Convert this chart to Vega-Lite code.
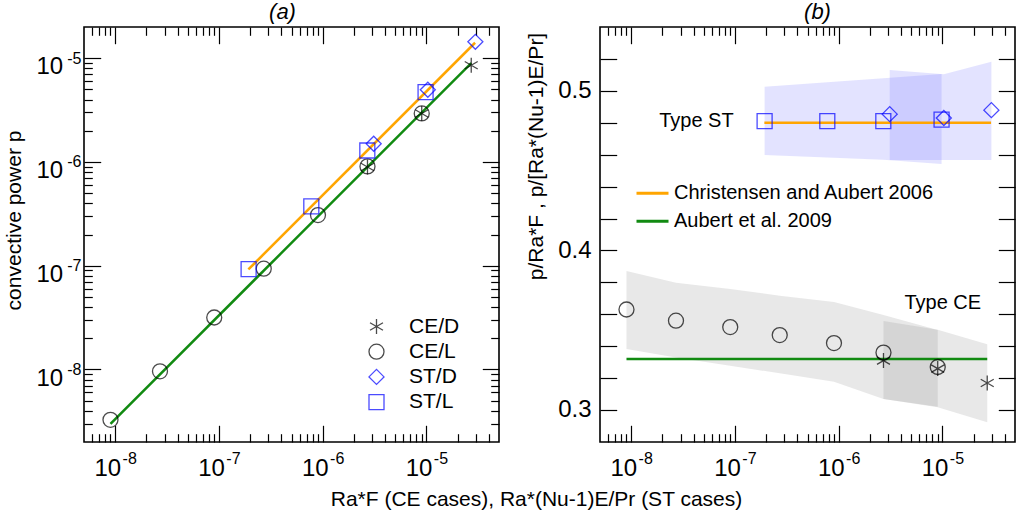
{
  "$schema": "https://vega.github.io/schema/vega-lite/v6.json",
  "background": "white",
  "padding": {"left": 2, "top": 0, "right": 5, "bottom": 2},
  "config": {
    "font": "Liberation Sans",
    "view": {"stroke": "black", "strokeWidth": 1.6},
    "axis": {"grid": false, "domain": false, "tickColor": "black", "tickWidth": 1.2, "labelColor": "black", "titleColor": "black", "labelFontSize": 24, "titleFontSize": 21, "titleFontWeight": "normal", "labelOverlap": false, "labelFlush": false, "labelBound": false},
    "legend": {"labelColor": "black", "labelLimit": 0}
  },
  "resolve": {"scale": {"color": "independent", "shape": "independent", "stroke": "independent", "fill": "independent"}},
  "datasets": {
    "pts": [
      {"type": "CE/L", "x": 9e-9, "p": 3.27e-9, "r": 0.363},
      {"type": "CE/L", "x": 2.7e-8, "p": 9.6e-9, "r": 0.356},
      {"type": "CE/L", "x": 9e-8, "p": 3.17e-8, "r": 0.352},
      {"type": "CE/L", "x": 2.7e-7, "p": 9.37e-8, "r": 0.347},
      {"type": "CE/L", "x": 9e-7, "p": 3.08e-7, "r": 0.342},
      {"type": "CE/L", "x": 2.7e-6, "p": 9.07e-7, "r": 0.336},
      {"type": "CE/L", "x": 9e-6, "p": 2.94e-6, "r": 0.327},
      {"type": "CE/D", "x": 2.7e-6, "p": 8.94e-7, "r": 0.331},
      {"type": "CE/D", "x": 9e-6, "p": 2.93e-6, "r": 0.326},
      {"type": "CE/D", "x": 2.7e-5, "p": 8.56e-6, "r": 0.317},
      {"type": "ST/L", "x": 1.93e-7, "p": 9.29e-8, "r": 0.481},
      {"type": "ST/L", "x": 7.76e-7, "p": 3.73e-7, "r": 0.481},
      {"type": "ST/L", "x": 2.69e-6, "p": 1.29e-6, "r": 0.481},
      {"type": "ST/L", "x": 9.8e-6, "p": 4.72e-6, "r": 0.482},
      {"type": "ST/D", "x": 3.1e-6, "p": 1.5e-6, "r": 0.4854},
      {"type": "ST/D", "x": 1.03e-5, "p": 4.97e-6, "r": 0.483},
      {"type": "ST/D", "x": 2.96e-5, "p": 1.44e-5, "r": 0.4879}
    ],
    "fits": [
      {"fit": "Christensen and Aubert 2006", "x": 1.92e-7, "p": 9.2e-8, "r": 0.48},
      {"fit": "Christensen and Aubert 2006", "x": 2.94e-5, "p": 1.41e-5, "r": 0.48},
      {"fit": "Aubert et al. 2009", "x": 9e-9, "p": 2.99e-9, "r": 0.332},
      {"fit": "Aubert et al. 2009", "x": 2.7e-5, "p": 8.96e-6, "r": 0.332}
    ],
    "bands": [
      {"band": "CE/L", "x": 9e-9, "lo": 0.3383, "hi": 0.3871},
      {"band": "CE/L", "x": 2.7e-8, "lo": 0.3329, "hi": 0.3798},
      {"band": "CE/L", "x": 9e-8, "lo": 0.3278, "hi": 0.3758},
      {"band": "CE/L", "x": 2.7e-7, "lo": 0.323, "hi": 0.3717},
      {"band": "CE/L", "x": 9e-7, "lo": 0.3177, "hi": 0.3677},
      {"band": "CE/L", "x": 2.7e-6, "lo": 0.3069, "hi": 0.3596},
      {"band": "CE/L", "x": 9e-6, "lo": 0.3021, "hi": 0.3502},
      {"band": "CE/D", "x": 2.7e-6, "lo": 0.3069, "hi": 0.3558},
      {"band": "CE/D", "x": 9e-6, "lo": 0.3018, "hi": 0.3504},
      {"band": "CE/D", "x": 2.7e-5, "lo": 0.2923, "hi": 0.3413},
      {"band": "ST/L", "x": 1.93e-7, "lo": 0.4598, "hi": 0.5025},
      {"band": "ST/L", "x": 7.76e-7, "lo": 0.4583, "hi": 0.5054},
      {"band": "ST/L", "x": 2.69e-6, "lo": 0.4569, "hi": 0.5079},
      {"band": "ST/L", "x": 9.8e-6, "lo": 0.4542, "hi": 0.5106},
      {"band": "ST/D", "x": 3.1e-6, "lo": 0.4567, "hi": 0.5131},
      {"band": "ST/D", "x": 1.03e-5, "lo": 0.4567, "hi": 0.5104},
      {"band": "ST/D", "x": 2.96e-5, "lo": 0.4567, "hi": 0.5183}
    ],
    "notes": [
      {"label": "Type ST", "x": 1.86e-8, "r": 0.4813},
      {"label": "Type CE", "x": 4.3e-6, "r": 0.3673}
    ]
  },
  "spacing": 101,
  "bounds": "flush",
  "hconcat": [
    {
      "width": 415,
      "height": 415,
      "title": {"text": "(a)", "fontStyle": "italic", "fontWeight": "normal", "fontSize": 22, "offset": 2, "dx": -9, "color": "black"},
      "resolve": {"axis": {"x": "independent", "y": "independent"}},
      "layer": [
        {
          "data": {"name": "fits"},
          "mark": {"type": "line", "strokeWidth": 2.5},
          "encoding": {
            "x": {"field": "x", "type": "quantitative", "scale": {"type": "log", "domain": [5e-9, 5e-5], "nice": false},
              "axis": {"orient": "bottom", "values": [1e-8, 1e-7, 1e-6, 1e-5], "offset": -16.7, "tickSize": 16.7,
                "labelExpr": "'10'", "labelBaseline": "alphabetic", "labelPadding": 33, "labelOffset": -8, "title": null}},
            "y": {"field": "p", "type": "quantitative", "scale": {"type": "log", "domain": [2e-9, 2e-5], "nice": false},
              "axis": {"orient": "left", "values": [1e-8, 1e-7, 1e-6, 1e-5], "offset": -16.7, "tickSize": 16.7,
                "labelExpr": "'10'", "labelBaseline": "alphabetic", "labelPadding": 21.3, "labelOffset": 15.6, "title": null}},
            "color": {"field": "fit", "type": "nominal", "scale": {"domain": ["Christensen and Aubert 2006", "Aubert et al. 2009"], "range": ["#ffa500", "#118a11"]}, "legend": null}
          }
        },
        {
          "data": {"name": "pts"},
          "mark": {"type": "point", "filled": false, "size": 225, "strokeWidth": 1.3},
          "encoding": {
            "x": {"field": "x", "type": "quantitative", "scale": {"type": "log", "domain": [5e-9, 5e-5], "nice": false},
              "axis": {"orient": "top", "values": [1e-8, 1e-7, 1e-6, 1e-5], "offset": -16.7, "tickSize": 16.7, "labels": false, "title": null}},
            "y": {"field": "p", "type": "quantitative", "scale": {"type": "log", "domain": [2e-9, 2e-5], "nice": false},
              "axis": {"orient": "right", "values": [1e-8, 1e-7, 1e-6, 1e-5], "offset": -16.7, "tickSize": 16.7, "labels": false, "title": null}},
            "shape": {"field": "type", "type": "nominal",
              "scale": {"domain": ["CE/D", "CE/L", "ST/D", "ST/L"], "range": ["M0,-1L0,1M-0.866,-0.5L0.866,0.5M-0.866,0.5L0.866,-0.5", "circle", "diamond", "square"]},
              "legend": {"orient": "none", "legendX": 282, "legendY": 289, "title": null, "labelFontSize": 21, "symbolSize": 225, "symbolStrokeWidth": 1.3, "labelOffset": 22, "rowPadding": 3.2}},
            "stroke": {"field": "type", "type": "nominal",
              "scale": {"domain": ["CE/D", "CE/L", "ST/D", "ST/L"], "range": ["black", "black", "#0000ff", "#0000ff"]},
              "legend": {"orient": "none", "legendX": 282, "legendY": 289, "title": null, "labelFontSize": 21, "symbolSize": 225, "symbolStrokeWidth": 1.3, "labelOffset": 22, "rowPadding": 3.2}}
          }
        },
        {
          "data": {"name": "pts"},
          "mark": {"type": "point", "opacity": 0},
          "encoding": {
            "x": {"field": "x", "type": "quantitative", "scale": {"type": "log", "domain": [5e-9, 5e-5], "nice": false},
              "axis": {"orient": "bottom", "values": [6e-9,7e-9,8e-9,9e-9,2e-8,3e-8,4e-8,5e-8,6e-8,7e-8,8e-8,9e-8,2e-7,3e-7,4e-7,5e-7,6e-7,7e-7,8e-7,9e-7,2e-6,3e-6,4e-6,5e-6,6e-6,7e-6,8e-6,9e-6,2e-5,3e-5,4e-5],
                "offset": -8.3, "tickSize": 8.3, "labels": false, "title": null}},
            "y": {"field": "p", "type": "quantitative", "scale": {"type": "log", "domain": [2e-9, 2e-5], "nice": false},
              "axis": {"orient": "left", "values": [3e-9,4e-9,5e-9,6e-9,7e-9,8e-9,9e-9,2e-8,3e-8,4e-8,5e-8,6e-8,7e-8,8e-8,9e-8,2e-7,3e-7,4e-7,5e-7,6e-7,7e-7,8e-7,9e-7,2e-6,3e-6,4e-6,5e-6,6e-6,7e-6,8e-6,9e-6],
                "offset": -8.3, "tickSize": 8.3, "labels": false, "title": null}}
          }
        },
        {
          "data": {"name": "pts"},
          "mark": {"type": "point", "opacity": 0},
          "encoding": {
            "x": {"field": "x", "type": "quantitative", "scale": {"type": "log", "domain": [5e-9, 5e-5], "nice": false},
              "axis": {"orient": "top", "values": [6e-9,7e-9,8e-9,9e-9,2e-8,3e-8,4e-8,5e-8,6e-8,7e-8,8e-8,9e-8,2e-7,3e-7,4e-7,5e-7,6e-7,7e-7,8e-7,9e-7,2e-6,3e-6,4e-6,5e-6,6e-6,7e-6,8e-6,9e-6,2e-5,3e-5,4e-5],
                "offset": -8.3, "tickSize": 8.3, "labels": false, "title": null}},
            "y": {"field": "p", "type": "quantitative", "scale": {"type": "log", "domain": [2e-9, 2e-5], "nice": false},
              "axis": {"orient": "right", "values": [3e-9,4e-9,5e-9,6e-9,7e-9,8e-9,9e-9,2e-8,3e-8,4e-8,5e-8,6e-8,7e-8,8e-8,9e-8,2e-7,3e-7,4e-7,5e-7,6e-7,7e-7,8e-7,9e-7,2e-6,3e-6,4e-6,5e-6,6e-6,7e-6,8e-6,9e-6],
                "offset": -8.3, "tickSize": 8.3, "labels": false, "title": null}}
          }
        },
        {
          "data": {"name": "pts"},
          "mark": {"type": "point", "opacity": 0},
          "encoding": {
            "x": {"field": "x", "type": "quantitative", "scale": {"type": "log", "domain": [5e-9, 5e-5], "nice": false},
              "axis": {"orient": "bottom", "values": [1e-8, 1e-7, 1e-6, 1e-5], "ticks": false, "tickSize": 0,
                "labelExpr": "'' + round(log(datum.value)/LN10)", "labelFontSize": 16, "labelBaseline": "alphabetic", "labelPadding": 21.5, "labelOffset": 14,
                "title": "Ra*F (CE cases), Ra*(Nu-1)E/Pr (ST cases)", "titleX": 452, "titleY": 63, "titleBaseline": "alphabetic"}},
            "y": {"field": "p", "type": "quantitative", "scale": {"type": "log", "domain": [2e-9, 2e-5], "nice": false},
              "axis": {"orient": "left", "values": [1e-8, 1e-7, 1e-6, 1e-5], "ticks": false, "tickSize": 0,
                "labelExpr": "'' + round(log(datum.value)/LN10)", "labelFontSize": 16, "labelBaseline": "alphabetic", "labelPadding": 3, "labelOffset": 5,
                "title": "convective power p", "titleX": -70, "titleY": 193, "titleBaseline": "middle"}}
          }
        }
      ]
    },
    {
      "width": 415,
      "height": 415,
      "title": {"text": "(b)", "fontStyle": "italic", "fontWeight": "normal", "fontSize": 22, "offset": 2, "dx": 10, "color": "black"},
      "resolve": {"axis": {"x": "independent", "y": "independent"}},
      "layer": [
        {
          "data": {"name": "bands"},
          "mark": {"type": "area", "opacity": 0.2},
          "encoding": {
            "x": {"field": "x", "type": "quantitative", "scale": {"type": "log", "domain": [5e-9, 5e-5], "nice": false},
              "axis": {"orient": "bottom", "values": [1e-8, 1e-7, 1e-6, 1e-5], "offset": -16.7, "tickSize": 16.7,
                "labelExpr": "'10'", "labelBaseline": "alphabetic", "labelPadding": 33, "labelOffset": -8, "title": null}},
            "y": {"field": "lo", "type": "quantitative", "stack": null, "scale": {"domain": [0.28, 0.54], "nice": false, "zero": false},
              "axis": {"orient": "left", "values": [0.3,0.32,0.34,0.36,0.38,0.4,0.42,0.44,0.46,0.48,0.5,0.52], "offset": -16.7, "tickSize": 16.7,
                "labelExpr": "abs(datum.value*10 - round(datum.value*10)) < 0.001 ? format(datum.value, '.1f') : ''",
                "labelBaseline": "alphabetic", "labelPadding": 9, "labelOffset": 6.7, "title": null}},
            "y2": {"field": "hi"},
            "fill": {"field": "band", "type": "nominal", "scale": {"domain": ["CE/L", "CE/D", "ST/L", "ST/D"], "range": ["#8a8a8a", "#8a8a8a", "#7373ff", "#7373ff"]}, "legend": null}
          }
        },
        {
          "data": {"name": "fits"},
          "mark": {"type": "line", "strokeWidth": 2.5},
          "encoding": {
            "x": {"field": "x", "type": "quantitative", "scale": {"type": "log", "domain": [5e-9, 5e-5], "nice": false},
              "axis": {"orient": "top", "values": [1e-8, 1e-7, 1e-6, 1e-5], "offset": -16.7, "tickSize": 16.7, "labels": false, "title": null}},
            "y": {"field": "r", "type": "quantitative", "scale": {"domain": [0.28, 0.54], "nice": false, "zero": false},
              "axis": {"orient": "right", "values": [0.3,0.32,0.34,0.36,0.38,0.4,0.42,0.44,0.46,0.48,0.5,0.52], "offset": -16.7, "tickSize": 16.7, "labels": false, "title": null}},
            "color": {"field": "fit", "type": "nominal", "scale": {"domain": ["Christensen and Aubert 2006", "Aubert et al. 2009"], "range": ["#ffa500", "#118a11"]},
              "legend": {"orient": "none", "legendX": 35, "legendY": 148.7, "title": null, "symbolType": "stroke", "symbolSize": 1024, "symbolStrokeWidth": 3, "labelFontSize": 20, "labelOffset": 4, "rowPadding": -7.7, "labelLimit": 0}}
          }
        },
        {
          "data": {"name": "pts"},
          "mark": {"type": "point", "filled": false, "size": 225, "strokeWidth": 1.3},
          "encoding": {
            "x": {"field": "x", "type": "quantitative", "scale": {"type": "log", "domain": [5e-9, 5e-5], "nice": false},
              "axis": {"orient": "bottom", "values": [6e-9,7e-9,8e-9,9e-9,2e-8,3e-8,4e-8,5e-8,6e-8,7e-8,8e-8,9e-8,2e-7,3e-7,4e-7,5e-7,6e-7,7e-7,8e-7,9e-7,2e-6,3e-6,4e-6,5e-6,6e-6,7e-6,8e-6,9e-6,2e-5,3e-5,4e-5],
                "offset": -8.3, "tickSize": 8.3, "labels": false, "title": null}},
            "y": {"field": "r", "type": "quantitative", "scale": {"domain": [0.28, 0.54], "nice": false, "zero": false},
              "axis": {"orient": "left", "values": [0.4], "ticks": false, "tickSize": 0, "labels": false,
                "title": "p/Ra*F , p/[Ra*(Nu-1)E/Pr]", "titleX": -64, "titleY": 129, "titleBaseline": "middle"}},
            "shape": {"field": "type", "type": "nominal",
              "scale": {"domain": ["CE/D", "CE/L", "ST/D", "ST/L"], "range": ["M0,-1L0,1M-0.866,-0.5L0.866,0.5M-0.866,0.5L0.866,-0.5", "circle", "diamond", "square"]}, "legend": null},
            "stroke": {"field": "type", "type": "nominal",
              "scale": {"domain": ["CE/D", "CE/L", "ST/D", "ST/L"], "range": ["black", "black", "#0000ff", "#0000ff"]}, "legend": null}
          }
        },
        {
          "data": {"name": "notes"},
          "mark": {"type": "text", "fontSize": 20, "align": "left", "baseline": "middle", "color": "black"},
          "encoding": {
            "x": {"field": "x", "type": "quantitative", "scale": {"type": "log", "domain": [5e-9, 5e-5], "nice": false},
              "axis": {"orient": "top", "values": [6e-9,7e-9,8e-9,9e-9,2e-8,3e-8,4e-8,5e-8,6e-8,7e-8,8e-8,9e-8,2e-7,3e-7,4e-7,5e-7,6e-7,7e-7,8e-7,9e-7,2e-6,3e-6,4e-6,5e-6,6e-6,7e-6,8e-6,9e-6,2e-5,3e-5,4e-5],
                "offset": -8.3, "tickSize": 8.3, "labels": false, "title": null}},
            "y": {"field": "r", "type": "quantitative", "scale": {"domain": [0.28, 0.54], "nice": false, "zero": false}, "axis": null},
            "text": {"field": "label"}
          }
        },
        {
          "data": {"name": "pts"},
          "mark": {"type": "point", "opacity": 0},
          "encoding": {
            "x": {"field": "x", "type": "quantitative", "scale": {"type": "log", "domain": [5e-9, 5e-5], "nice": false},
              "axis": {"orient": "bottom", "values": [1e-8, 1e-7, 1e-6, 1e-5], "ticks": false, "tickSize": 0,
                "labelExpr": "'' + round(log(datum.value)/LN10)", "labelFontSize": 16, "labelBaseline": "alphabetic", "labelPadding": 21.5, "labelOffset": 14, "title": null}},
            "y": {"field": "r", "type": "quantitative", "scale": {"domain": [0.28, 0.54], "nice": false, "zero": false}, "axis": null}
          }
        }
      ]
    }
  ]
}
